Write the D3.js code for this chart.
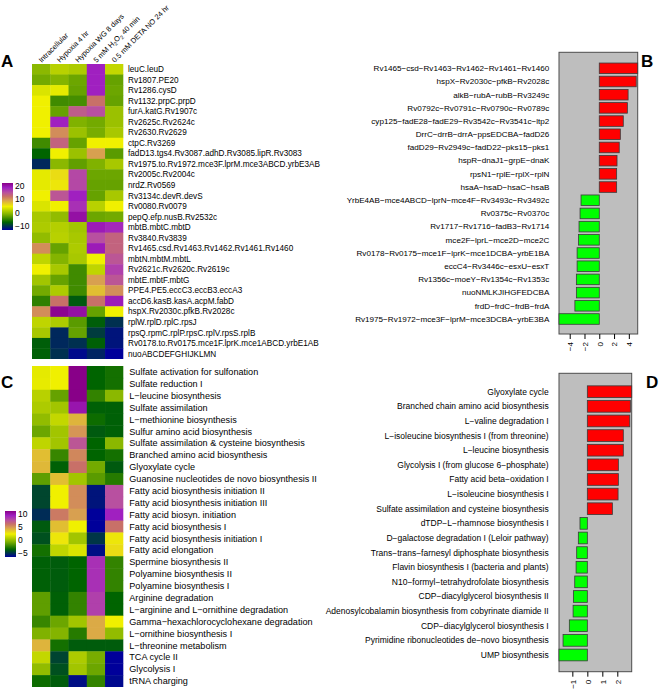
<!DOCTYPE html>
<html><head><meta charset="utf-8">
<script src="https://cdn.jsdelivr.net/npm/d3@7/dist/d3.min.js"></script>
<style>body{margin:0;background:#fff} svg text{font-family:"Liberation Sans",Arial,Helvetica,sans-serif;fill:#000}</style>
</head><body><svg id="chart" width="660" height="694"></svg>
<script>
// ---------------- data ----------------
const heatCols = ["Intracellular","Hypoxia 4 hr","Hypoxia WG 8 days","5 mM H2O2 40 min","0.5 mM DETA NO 24 hr"];

const operonsA = ["leuC.leuD","Rv1807.PE20","Rv1286.cysD","Rv1132.prpC.prpD","furA.katG.Rv1907c","Rv2625c.Rv2624c","Rv2630.Rv2629","ctpC.Rv3269","fadD13.tgs4.Rv3087.adhD.Rv3085.lipR.Rv3083","Rv1975.to.Rv1972.mce3F.lprM.mce3ABCD.yrbE3AB","Rv2005c.Rv2004c","nrdZ.Rv0569","Rv3134c.devR.devS","Rv0080.Rv0079","pepQ.efp.nusB.Rv2532c","mbtB.mbtC.mbtD","Rv3840.Rv3839","Rv1465.csd.Rv1463.Rv1462.Rv1461.Rv1460","mbtN.mbtM.mbtL","Rv2621c.Rv2620c.Rv2619c","mbtE.mbtF.mbtG","PPE4.PE5.eccC3.eccB3.eccA3","accD6.kasB.kasA.acpM.fabD","hspX.Rv2030c.pfkB.Rv2028c","rplW.rplD.rplC.rpsJ","rpsQ.rpmC.rplP.rpsC.rplV.rpsS.rplB","Rv0178.to.Rv0175.mce1F.lprK.mce1ABCD.yrbE1AB","nuoABCDEFGHIJKLMN"];
const valuesA = [
 [0.5, 2.5, 2, 17, 3],
 [-0.5, 0.2, -0.8, 17, -1],
 [4, 4.5, -1, 17, -0.8],
 [5, -2.5, -2.3, 11.5, -1],
 [5, -1, 13, 14, 1.2],
 [5, 17, 0, -0.5, 1.2],
 [5, 10, 1.2, -0.3, 1.8],
 [-2.5, 12.5, -1, 5, 5],
 [-5, 5, 1.2, 9, -1.5],
 [-8, 0.5, -1.2, 0, 1.8],
 [4.5, 6, 14.5, -0.8, -0.8],
 [4.5, 5.5, 14.5, -1, -1],
 [5, 13.5, 17, -1, 1.8],
 [4, 5, 16, 2.5, 5],
 [1.8, 0.8, 18.5, -0.8, -0.5],
 [2, 2.3, 1.5, 17.5, 16.5],
 [0.8, 2.5, 1.8, 14, 12.5],
 [10, -1, 2, 17.5, 12.5],
 [2.8, 0.2, 1.8, 5, 13.5],
 [5, 1.8, -2.5, 2.8, 15],
 [1.5, -1, -2.5, 9, 13.5],
 [-0.5, 2, -2.5, 7.5, 10],
 [-3.2, 11.5, -5.5, 11.5, 17.5],
 [10, 19.5, 18.5, -1, 5],
 [2.8, 2, -1.5, -5.3, -7.6],
 [1.8, -8, -1, -7, -9],
 [-5.3, -8, -7.6, -5.2, -9],
 [-5.2, -7.6, -9.5, -8.2, -10]
];
const legendTicksA = [20, 10, 0, -10];

const pathwaysC = ["Sulfate activation for sulfonation","Sulfate reduction I","L-leucine biosynthesis","Sulfate assimilation","L-methionine biosynthesis","Sulfur amino acid biosynthesis","Sulfate assimilation & cysteine biosynthesis","Branched amino acid biosynthesis","Glyoxylate cycle","Guanosine nucleotides de novo biosynthesis II","Fatty acid biosynthesis initiation II","Fatty acid biosynthesis initiation III","Fatty acid biosyn. initiation","Fatty acid biosynthesis I","Fatty acid biosynthesis initiation I","Fatty acid elongation","Spermine biosynthesis II","Polyamine biosynthesis II","Polyamine biosynthesis I","Arginine degradation","L-arginine and L-ornithine degradation","Gamma-hexachlorocyclohexane degradation","L-ornithine biosynthesis I","L-threonine metabolism","TCA cycle II","Glycolysis I","tRNA charging"];
const valuesC = [
 [2.25, 2.5, 10, -2.5, -2.1],
 [2.3, 2.5, 10, -2.5, -2.1],
 [1.25, -0.5, 10, -1.5, 0.25],
 [1, 0.75, 9, -2.6, -2.6],
 [0.4, 1.5, 4, -2.25, -2.6],
 [-0.4, 0.75, 4.75, -2.75, -2.6],
 [1.4, 0.75, 6.75, -2.5, 0.25],
 [3.75, -1.4, 5.15, -2.5, -2.1],
 [3.9, -2.6, 5.75, -0.25, -2.75],
 [-0.65, 3.75, 0.75, -0.75, -1.75],
 [-3.25, 2.5, 5, -4.5, 7],
 [-3.25, 2.5, 5, -4.5, 7],
 [-3.9, 5.5, 4.5, -5, 8.5],
 [-2.75, 3.75, 2.5, -5, 5.75],
 [-3, 2.75, 0.75, -3.65, 2.75],
 [-2.1, 1.4, 2, -4.65, 3],
 [-2.6, -2.7, -2.5, 8, -1.5],
 [-2.6, -2.7, -2.5, 8, -1.5],
 [-2.6, -2.7, -2.5, 8, -1.5],
 [-0.65, -2.6, -1.5, 7.5, -2.5],
 [-0.65, -2.6, -1.5, 7.5, -2.5],
 [-1.4, -0.4, 0.75, 4.25, 2.5],
 [0, 0.1, -1.75, 4.25, 0.4],
 [4, -2.1, -2.7, -2.7, -2.7],
 [1.5, -3.3, 1, -0.15, -5],
 [0.4, -3, 0.75, -0.4, -5],
 [-2.25, -2.7, -4.65, -1.5, -4.8]
];
const legendTicksC = [10, 5, 0, -5];

const operonsB = ["Rv1465-csd-Rv1463-Rv1462-Rv1461-Rv1460","hspX-Rv2030c-pfkB-Rv2028c","alkB-rubA-rubB-Rv3249c","Rv0792c-Rv0791c-Rv0790c-Rv0789c","cyp125-fadE28-fadE29-Rv3542c-Rv3541c-ltp2","DrrC-drrB-drrA-ppsEDCBA-fadD26","fadD29-Rv2949c-fadD22-pks15-pks1","hspR-dnaJ1-grpE-dnaK","rpsN1-rplE-rplX-rplN","hsaA-hsaD-hsaC-hsaB","YrbE4AB-mce4ABCD-lprN-mce4F-Rv3493c-Rv3492c","Rv0375c-Rv0370c","Rv1717-Rv1716-fadB3-Rv1714","mce2F-lprL-mce2D-mce2C","Rv0178-Rv0175-mce1F-lprK-mce1DCBA-yrbE1BA","eccC4-Rv3446c-esxU-esxT","Rv1356c-moeY-Rv1354c-Rv1353c","nuoNMLKJIHGFEDCBA","frdD-frdC-frdB-frdA","Rv1975-Rv1972-mce3F-lprM-mce3DCBA-yrbE3BA"];
const valuesB = [5.2, 5.0, 3.9, 3.8, 3.25, 2.85, 2.7, 2.4, 2.35, 2.35, -2.47, -2.6, -2.74, -2.8, -3.0, -3.0, -3.1, -3.1, -3.3, -5.45];
const ticksB = [-4, -2, 0, 2, 4];

const pathwaysD = ["Glyoxylate cycle","Branched chain amino acid biosynthesis","L-valine degradation I","L-isoleucine biosynthesis I (from threonine)","L-leucine biosynthesis","Glycolysis I (from glucose 6-phosphate)","Fatty acid beta-oxidation I","L-isoleucine biosynthesis I","Sulfate assimilation and cysteine biosynthesis","dTDP-L-rhamnose biosynthesis I","D-galactose degradation I (Leloir pathway)","Trans-trans-farnesyl diphosphate biosynthesis","Flavin biosynthesis I (bacteria and plants)","N10-formyl-tetrahydrofolate biosynthesis","CDP-diacylglycerol biosynthesis II","Adenosylcobalamin biosynthesis from cobyrinate diamide II","CDP-diacylglycerol biosynthesis I","Pyrimidine ribonucleotides de-novo biosynthesis","UMP biosynthesis"];
const valuesD = [2.96, 2.87, 2.83, 2.4, 2.4, 2.07, 2.07, 2.05, 1.67, -0.49, -0.6, -0.71, -0.75, -0.84, -0.93, -0.95, -1.2, -1.62, -1.89];
const ticksD = [-1, 0, 1, 2];

// ---------------- drawing ----------------
const svg = d3.select("#chart");
const minus = s => s.replace(/-/g, "\u2212");

const rampFracs = [0, 1/6, 1/3, 0.5, 0.633, 0.717, 0.8, 0.9, 1];
const rampColors = ["#00009a","#006400","#80b200","#f0f000","#d8a050","#c87068","#b850a0","#a020c0","#880088"];
function makeColor(lo, hi) {
  return d3.scaleLinear().domain(rampFracs.map(f => lo + f * (hi - lo)))
    .range(rampColors).interpolate(d3.interpolateRgb).clamp(true);
}
const colorA = makeColor(-10, 20);
const colorC = makeColor(-5, 10);

function heatmap(rows, values, color, x0, x1, y0, y1, labelX, fs) {
  const x = d3.scaleBand().domain(heatCols).range([x0, x1]);
  const y = d3.scaleBand().domain(rows).range([y0, y1]);
  const g = svg.append("g");
  rows.forEach((r, i) => {
    heatCols.forEach((c, j) => {
      g.append("rect").attr("x", x(c)).attr("y", y(r))
        .attr("width", x.bandwidth() + (j < heatCols.length - 1 ? 0.4 : 0))
        .attr("height", y.bandwidth() + (i < rows.length - 1 ? 0.4 : 0))
        .attr("fill", color(values[i][j]));
    });
  });
  g.selectAll("text.rl").data(rows).join("text").attr("class", "rl")
    .attr("x", labelX).attr("y", d => y(d) + y.bandwidth() / 2).attr("dy", "0.35em")
    .style("font-size", fs + "px").text(d => minus(d));
  return x;
}

function legend(color, lo, hi, ticks, bx, by0, by1, ly0, ly1, id) {
  const grad = svg.append("defs").append("linearGradient").attr("id", id)
    .attr("x1", 0).attr("y1", 1).attr("x2", 0).attr("y2", 0);
  d3.range(0, 1.0001, 0.02).forEach(t => {
    grad.append("stop").attr("offset", t).attr("stop-color", color(lo + t * (hi - lo)));
  });
  svg.append("rect").attr("x", bx).attr("y", by0).attr("width", 11).attr("height", by1 - by0)
    .attr("fill", `url(#${id})`);
  const ly = d3.scaleLinear().domain([lo, hi]).range([ly1, ly0]);
  svg.selectAll("text." + id).data(ticks).join("text").attr("class", id)
    .attr("x", bx + 13).attr("y", d => ly(d)).attr("dy", "0.35em")
    .style("font-size", "8.5px").text(d => d3.format("d")(d));
}

// Panel A heatmap
const xA = heatmap(operonsA, valuesA, colorA, 32, 123.3, 64, 359, 128, 8.2);
// column headers
heatCols.forEach(c => {
  const t = svg.append("text")
    .attr("transform", `translate(${xA(c) + xA.bandwidth() / 2 + 0.5},63) rotate(-45)`)
    .style("font-size", "7.4px");
  if (c.includes("H2O2")) {
    const [pre, post] = c.split("H2O2");
    t.append("tspan").text(pre + "H");
    t.append("tspan").attr("dy", 1.8).style("font-size", "5.4px").text("2");
    t.append("tspan").attr("dy", -1.8).text("O");
    t.append("tspan").attr("dy", 1.8).style("font-size", "5.4px").text("2");
    t.append("tspan").attr("dy", -1.8).text(post);
  } else t.text(c);
});
legend(colorA, -10, 20, legendTicksA, 2, 183, 230, 186, 226.5, "gA");

// Panel C heatmap
heatmap(pathwaysC, valuesC, colorC, 32, 123.3, 366, 687, 129.3, 9.1);
legend(colorC, -5, 10, legendTicksC, 5, 511, 557, 514.3, 553.3, "gC");

// Bar panels
function barPanel(names, values, domain, bx0, bx1, by0, by1, c0, c1, ticks, labelX, fs) {
  const x = d3.scaleLinear().domain(domain).range([bx0, bx1]);
  const y = d3.scalePoint().domain(names).range([c0, c1]);
  const g = svg.append("g");
  g.append("rect").attr("x", bx0).attr("y", by0).attr("width", bx1 - bx0).attr("height", by1 - by0)
    .attr("fill", "#bebebe").attr("stroke", "#4d4d4d").attr("stroke-width", 1);
  const bh = y.step() * 0.8;
  g.selectAll("rect.bar").data(names).join("rect").attr("class", "bar")
    .attr("x", (d, i) => Math.min(x(0), x(values[i])))
    .attr("width", (d, i) => Math.abs(x(values[i]) - x(0)))
    .attr("y", d => y(d) - bh / 2).attr("height", bh)
    .attr("fill", (d, i) => values[i] >= 0 ? "#ff0000" : "#00ff00")
    .attr("stroke", "#3a3a3a").attr("stroke-width", 0.8);
  g.selectAll("text.bl").data(names).join("text").attr("class", "bl")
    .attr("x", labelX).attr("y", d => y(d)).attr("dy", "0.35em").attr("text-anchor", "end")
    .style("font-size", fs + "px").text(d => minus(d));
  const ax = g.append("g").attr("transform", `translate(0,${by1})`)
    .call(d3.axisBottom(x).tickValues(ticks).tickSize(5).tickFormat(d3.format("d")));
  ax.select(".domain").remove();
  ax.selectAll(".tick line").attr("stroke", "#000");
  ax.selectAll(".tick text").attr("transform", "rotate(-90)").attr("x", -8).attr("y", 0)
    .attr("dy", "0.35em").style("text-anchor", "end").style("font-size", "8px")
    .style("font-family", '"Liberation Sans",Arial,sans-serif').attr("fill", "#000");
}
barPanel(operonsB, valuesB, [-5.45, 5.2], 559, 637.7, 52.3, 334, 68.3, 319, ticksB, 549.3, 8.1);
barPanel(pathwaysD, valuesD, [-1.89, 2.96], 559, 631.7, 373.3, 671.7, 391.7, 655, ticksD, 548.7, 8.5);

// panel letters
[["A", 1, 67], ["B", 641, 67], ["C", 1, 388], ["D", 646, 388]].forEach(([t, x, y]) => {
  svg.append("text").attr("x", x).attr("y", y).style("font-size", "17px").style("font-weight", "bold").text(t);
});
</script></body></html>
